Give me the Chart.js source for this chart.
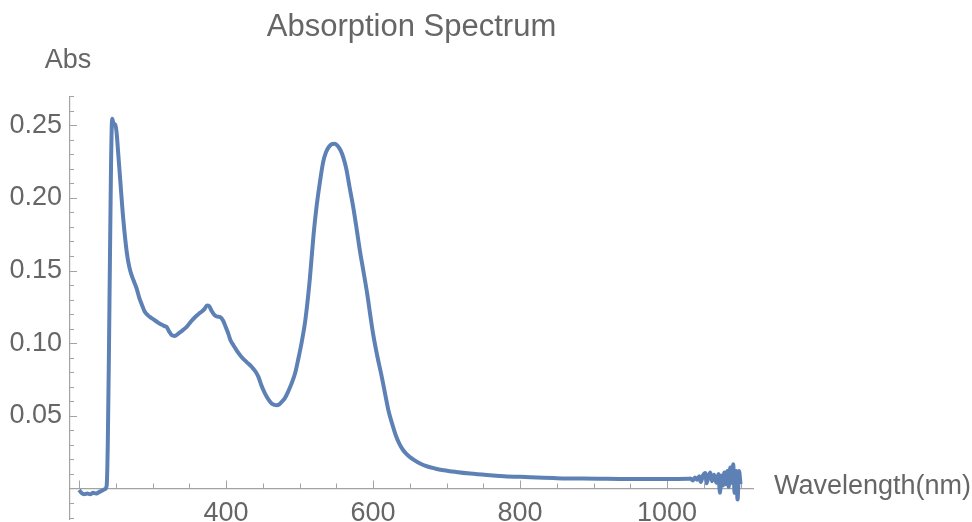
<!DOCTYPE html>
<html>
<head>
<meta charset="utf-8">
<script src="https://cdn.jsdelivr.net/npm/chart.js@4.4.0/dist/chart.umd.min.js"></script>
<style>
  html, body { margin: 0; padding: 0; background: #fff; }
  #wrap { width: 972px; height: 522px; }
</style>
</head>
<body>
<div id="wrap"><canvas id="myChart"></canvas></div>
<script>
// values
const wavelength = [
  200, 203, 207, 211, 215, 219, 223, 227, 231, 235, 237.5, 239, 240.5, 242, 243.5,
  245, 247, 249, 251, 253, 256, 260, 265, 268.5, 272, 275, 278, 282, 285, 289,
  294, 298, 303, 308, 312, 316, 319, 322, 326, 330, 335, 340, 346, 352, 358,
  363, 367, 371, 374, 377, 380, 384, 388, 392, 396, 400, 403, 406, 410, 415,
  421, 428, 435, 440, 444, 448, 453, 458, 462, 466, 469, 472, 476, 480, 484,
  489, 494, 498, 503, 508, 514, 519, 523, 527, 532, 536, 540, 544, 548, 552,
  556, 560, 564, 568, 573, 578, 582, 587, 592, 596, 600, 606, 612, 617, 621,
  626, 631, 636, 641, 648, 655, 664, 673, 684, 696, 713, 732, 755, 778, 800,
  823, 845, 864, 885, 910, 935, 960, 985, 1010, 1030,
  1032, 1035, 1038, 1041, 1044, 1046, 1049, 1052, 1054, 1056, 1059, 1061, 1064, 1067, 1070,
  1072, 1074, 1076, 1078, 1080, 1082, 1084, 1086, 1088, 1090, 1092, 1094, 1096, 1098, 1100
];
const absorbance = [
  -0.001, -0.003, -0.004, -0.0035, -0.004, -0.003, -0.0035, -0.0025, -0.0015, -0.0005, 0.002, 0.03, 0.09, 0.16, 0.225,
  0.2545, 0.251, 0.2505, 0.245, 0.232, 0.212, 0.186, 0.162, 0.152, 0.146, 0.142, 0.138, 0.131, 0.127, 0.122,
  0.119, 0.1175, 0.1158, 0.114, 0.1128, 0.1118, 0.1112, 0.1085, 0.1055, 0.105, 0.1066, 0.1085, 0.111, 0.1148, 0.118,
  0.1203, 0.1218, 0.1238, 0.126, 0.1255, 0.1225, 0.1195, 0.1183, 0.118, 0.1155, 0.1105, 0.1066, 0.102, 0.0986, 0.0945,
  0.0905, 0.087, 0.0836, 0.0805, 0.0768, 0.071, 0.0653, 0.061, 0.0585, 0.0575, 0.0573, 0.0578, 0.0598, 0.0622, 0.0662,
  0.0722, 0.0795, 0.0885, 0.101, 0.1165, 0.1445, 0.1745, 0.1935, 0.2085, 0.2245, 0.2315, 0.2352, 0.237, 0.2373, 0.2357,
  0.2325, 0.227, 0.219, 0.2075, 0.1937, 0.1775, 0.1639, 0.1492, 0.1341, 0.12, 0.1066, 0.0905, 0.0765, 0.0635, 0.0535,
  0.0445, 0.0365, 0.0305, 0.0263, 0.0225, 0.0199, 0.0172, 0.0153, 0.0138, 0.0126, 0.0114, 0.0103, 0.0093, 0.0085, 0.008,
  0.0076, 0.0072, 0.0069, 0.0068, 0.0067, 0.0066, 0.0066, 0.0065, 0.0066, 0.0067,
  0.0068, 0.0055, 0.0075, 0.006, 0.0085, 0.0045, 0.009, 0.0107, 0.0036, 0.008, 0.011, 0.005, 0.0095, 0.004, 0.01,
  -0.003, 0.009, 0.002, 0.011, 0.003, 0.012, 0.001, 0.0145, 0.004, 0.0167, -0.003, 0.012, -0.0076, 0.012, 0.003
];
const xTickLabels = [400, 600, 800, 1000];
const yTickLabels = [0.05, 0.10, 0.15, 0.20, 0.25];

const axisGray = '#a3a3a3';
const textGray = '#666666';
const fontFamily = "'Liberation Sans', Arial, sans-serif";

const points = wavelength.map((w, i) => ({ x: w, y: absorbance[i] }));

// Mathematica style ticks, pointing into the plot
const insideTicks = {
  id: 'insideTicks',
  beforeDatasetsDraw(chart) {
    const { ctx, scales: { x, y } } = chart;
    const x0 = chart.chartArea.left;
    const y0 = y.getPixelForValue(0);
    ctx.save();
    ctx.strokeStyle = axisGray;
    ctx.lineWidth = 1;
    for (let v = 200; v <= 1100; v += 50) {
      const px = Math.round(x.getPixelForValue(v)) + 0.5;
      const len = v % 200 === 0 ? 8 : 5;
      ctx.beginPath();
      ctx.moveTo(px, y0);
      ctx.lineTo(px, y0 - len);
      ctx.stroke();
    }
    for (let k = -2; k <= 27; k++) {
      const py = Math.round(y.getPixelForValue(k / 100)) + 0.5;
      const len = k % 5 === 0 ? 7 : 4;
      ctx.beginPath();
      ctx.moveTo(x0, py);
      ctx.lineTo(x0 + len, py);
      ctx.stroke();
    }
    ctx.restore();
  },
  afterDraw(chart) {
    const { ctx, scales: { y } } = chart;
    const y0 = y.getPixelForValue(0);
    ctx.save();
    ctx.fillStyle = textGray;
    ctx.font = '27px ' + fontFamily;
    ctx.textBaseline = 'middle';
    ctx.textAlign = 'center';
    ctx.fillText('Abs', chart.chartArea.left - 2, 61);
    ctx.textAlign = 'left';
    ctx.fillText('Wavelength(nm)', chart.chartArea.right + 21, y0 - 2);
    ctx.restore();
  }
};

const ctx = document.getElementById('myChart');

new Chart(ctx, {
  type: 'line',
  data: {
    datasets: [
      {
        label: 'Abs',
        data: points,
        borderColor: 'rgb(94,129,181)',
        borderWidth: 4,
        pointRadius: 0,
        cubicInterpolationMode: 'monotone',
        borderJoinStyle: 'round',
        fill: false,
      },
    ],
  },
  options: {
    responsive: true,
    maintainAspectRatio: false,
    animation: false,
    devicePixelRatio: 1,
    layout: {
      padding: { left: 0, right: 219, top: 0, bottom: 3 }
    },
    plugins: {
      legend: { display: false },
      tooltip: { enabled: false },
      title: {
        display: true,
        text: 'Absorption Spectrum',
        color: textGray,
        fullSize: false,
        font: { size: 31, weight: 'normal', family: fontFamily },
        padding: { top: 9, bottom: 50 },
      },
    },
    scales: {
      x: {
        type: 'linear',
        min: 187.6,
        max: 1117,
        position: { y: 0 },
        grid: { display: false, drawTicks: false },
        border: { display: true, color: axisGray, width: 1.2 },
        afterBuildTicks: (scale) => {
          scale.ticks = xTickLabels.map(v => ({ value: v }));
        },
        afterFit: (scale) => {
          scale.height = 0;
        },
        ticks: {
          color: textGray,
          font: { size: 27, family: fontFamily },
          padding: 9,
          maxRotation: 0,
          autoSkip: false,
          callback: (v) => String(v),
        },
      },
      y: {
        type: 'linear',
        min: -0.021,
        max: 0.27,
        position: 'left',
        grid: { display: false, drawTicks: false },
        border: { display: true, color: axisGray, width: 1.2 },
        afterBuildTicks: (scale) => {
          scale.ticks = yTickLabels.map(v => ({ value: v }));
        },
        afterFit: (scale) => {
          scale.width = 70;
          scale.paddingTop = 0;
          scale.paddingBottom = 0;
        },
        ticks: {
          color: textGray,
          font: { size: 27, family: fontFamily },
          padding: 8,
          autoSkip: false,
          callback: (v) => v.toFixed(2),
        },
      },
    },
  },
  plugins: [insideTicks],
});
</script>
</body>
</html>
